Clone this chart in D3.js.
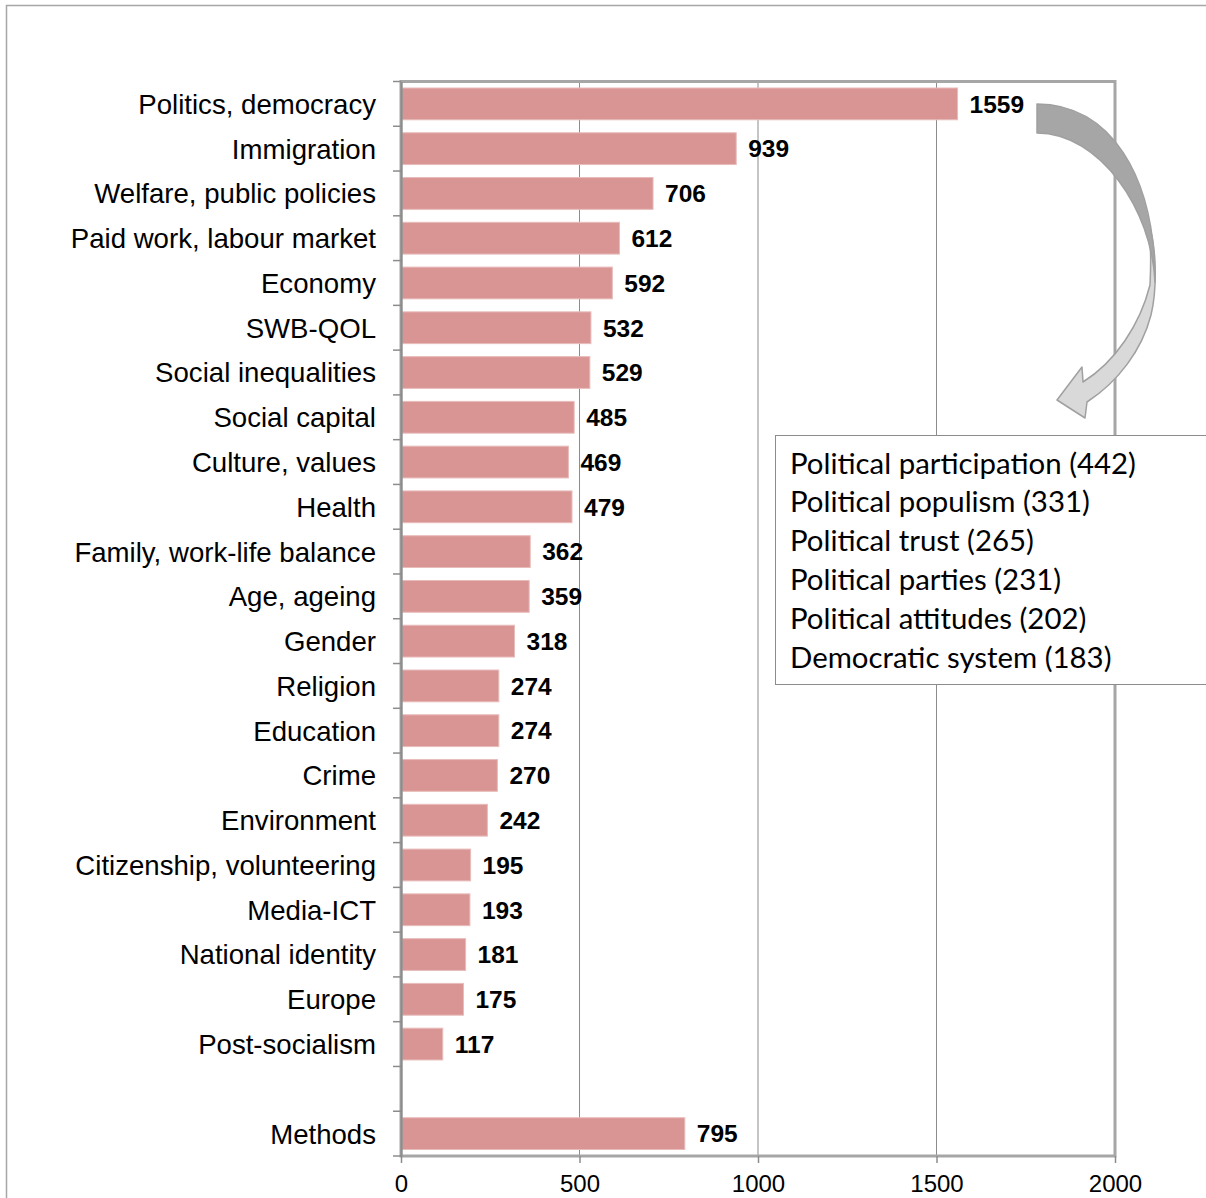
<!DOCTYPE html>
<html><head><meta charset="utf-8">
<script src="https://cdn.jsdelivr.net/npm/d3@7"></script>
<style>html,body{margin:0;padding:0;background:#fff;}svg{display:block;}</style>
</head><body>
<script>
const categories = ["Politics, democracy","Immigration","Welfare, public policies","Paid work, labour market","Economy","SWB-QOL","Social inequalities","Social capital","Culture, values","Health","Family, work-life balance","Age, ageing","Gender","Religion","Education","Crime","Environment","Citizenship, volunteering","Media-ICT","National identity","Europe","Post-socialism","","Methods"];
const values = [1559,939,706,612,592,532,529,485,469,479,362,359,318,274,274,270,242,195,193,181,175,117,null,795];
const xTicks = [0,500,1000,1500,2000];
const legendLines = ["Political participation (442)","Political populism (331)","Political trust (265)","Political parties (231)","Political attitudes (202)","Democratic system (183)"];

const W = 1206, H = 1198;
const svg = d3.select("body").append("svg").attr("width", W).attr("height", H);
svg.append("rect").attr("width", W).attr("height", H).attr("fill", "#fff");
// outer chart border
svg.append("path").attr("d", `M6.5,${H}V5.5H${W}`).attr("fill","none").attr("stroke","#a6a6a6").attr("stroke-width",1.5);

const x = d3.scaleLinear().domain([0,2000]).range([401,1115]);
const y = d3.scaleBand().domain(categories).range([81.5,1156]).paddingInner(0.29).paddingOuter(0.145);

// gridlines
svg.append("g").selectAll("line").data(xTicks.slice(1,-1)).join("line")
  .attr("x1", d=>x(d)).attr("x2", d=>x(d)).attr("y1",81.5).attr("y2",1156)
  .attr("stroke","#8c8c8c").attr("stroke-width",1);

const data = categories.map((c,i)=>({c, v: values[i]})).filter(d=>d.v!=null);

// bars
svg.append("g").selectAll("rect").data(data).join("rect")
  .attr("x", x(0)).attr("y", d=>y(d.c)).attr("width", d=>x(d.v)-x(0)).attr("height", y.bandwidth())
  .attr("fill","#d99594").attr("stroke","#e8bcbb").attr("stroke-width",1);

// value labels
svg.append("g").selectAll("text").data(data).join("text")
  .attr("x", d=>x(d.v)+12).attr("y", d=>y(d.c)+y.bandwidth()/2).attr("dy","0.36em")
  .attr("font-family","'Liberation Sans', Arial, sans-serif").attr("font-weight","bold").attr("font-size",24.5)
  .attr("fill","#000").text(d=>d.v);

// plot frame
svg.append("rect").attr("x",x(0)).attr("y",81.5).attr("width",x(2000)-x(0)).attr("height",1156-81.5)
  .attr("fill","none").attr("stroke","#a6a6a6").attr("stroke-width",3);

// left axis
const yAxis = d3.axisLeft(y).tickSize(0).tickPadding(25);
const gy = svg.append("g").attr("transform",`translate(${x(0)},0)`).call(yAxis);
gy.select(".domain").attr("stroke","#8c8c8c").attr("stroke-width",2);
gy.selectAll("text").attr("font-family","'Liberation Sans', Arial, sans-serif").attr("font-size",27.6).attr("fill","#000").attr("dy","0.36em");
// category boundary ticks
const bounds = categories.map(c=>y(c)-y.step()*y.paddingInner()/2).concat([1156]);
svg.append("g").selectAll("line").data(bounds).join("line")
  .attr("x1",x(0)-8).attr("x2",x(0)).attr("y1",d=>d).attr("y2",d=>d)
  .attr("stroke","#8c8c8c").attr("stroke-width",1.5);

// bottom axis
const xAxis = d3.axisBottom(x).tickValues(xTicks).tickSize(7).tickPadding(12).tickFormat(d3.format("d"));
const gx = svg.append("g").attr("transform","translate(0,1156)").call(xAxis);
gx.select(".domain").remove();
gx.selectAll("line").attr("stroke","#8c8c8c").attr("stroke-width",1.5);
gx.selectAll("text").attr("font-family","'Liberation Sans', Arial, sans-serif").attr("font-size",24).attr("fill","#000");

// curved arrow
const arrow = svg.append("g").attr("stroke","#a0a0a0").attr("stroke-width",1.5).attr("stroke-linejoin","round");
arrow.append("path").attr("fill","#d9d9d9")
  .attr("d","M1149,225 C1157,250 1157,290 1151,315 C1142,350 1118,382 1087,402 L1085,418 L1057,400 L1082,367 L1083,382 C1115,362 1140,325 1150,285 C1151,265 1151,245 1149,225 Z");
arrow.append("path").attr("fill","#a6a6a6")
  .attr("d","M1037,104 C1110,104 1155,175 1155,282 C1152,210 1100,133 1037,133 Z");

// legend box
svg.append("rect").attr("x",775.5).attr("y",435.5).attr("width",W-775).attr("height",249)
  .attr("fill","#fff").attr("stroke","#8c8c8c").attr("stroke-width",1);
const lg = svg.append("g").attr("font-family","Lato, 'Open Sans', sans-serif").attr("fill","#000");
const probe = lg.append("text").attr("font-size",100).text(legendLines[0]);
const fs = 100*346/probe.node().getComputedTextLength();
probe.remove();
lg.selectAll("text").data(legendLines).join("text")
  .attr("x",790).attr("y",(d,i)=>473.5+i*38.8).attr("font-size",fs).text(d=>d);
</script>
</body></html>
